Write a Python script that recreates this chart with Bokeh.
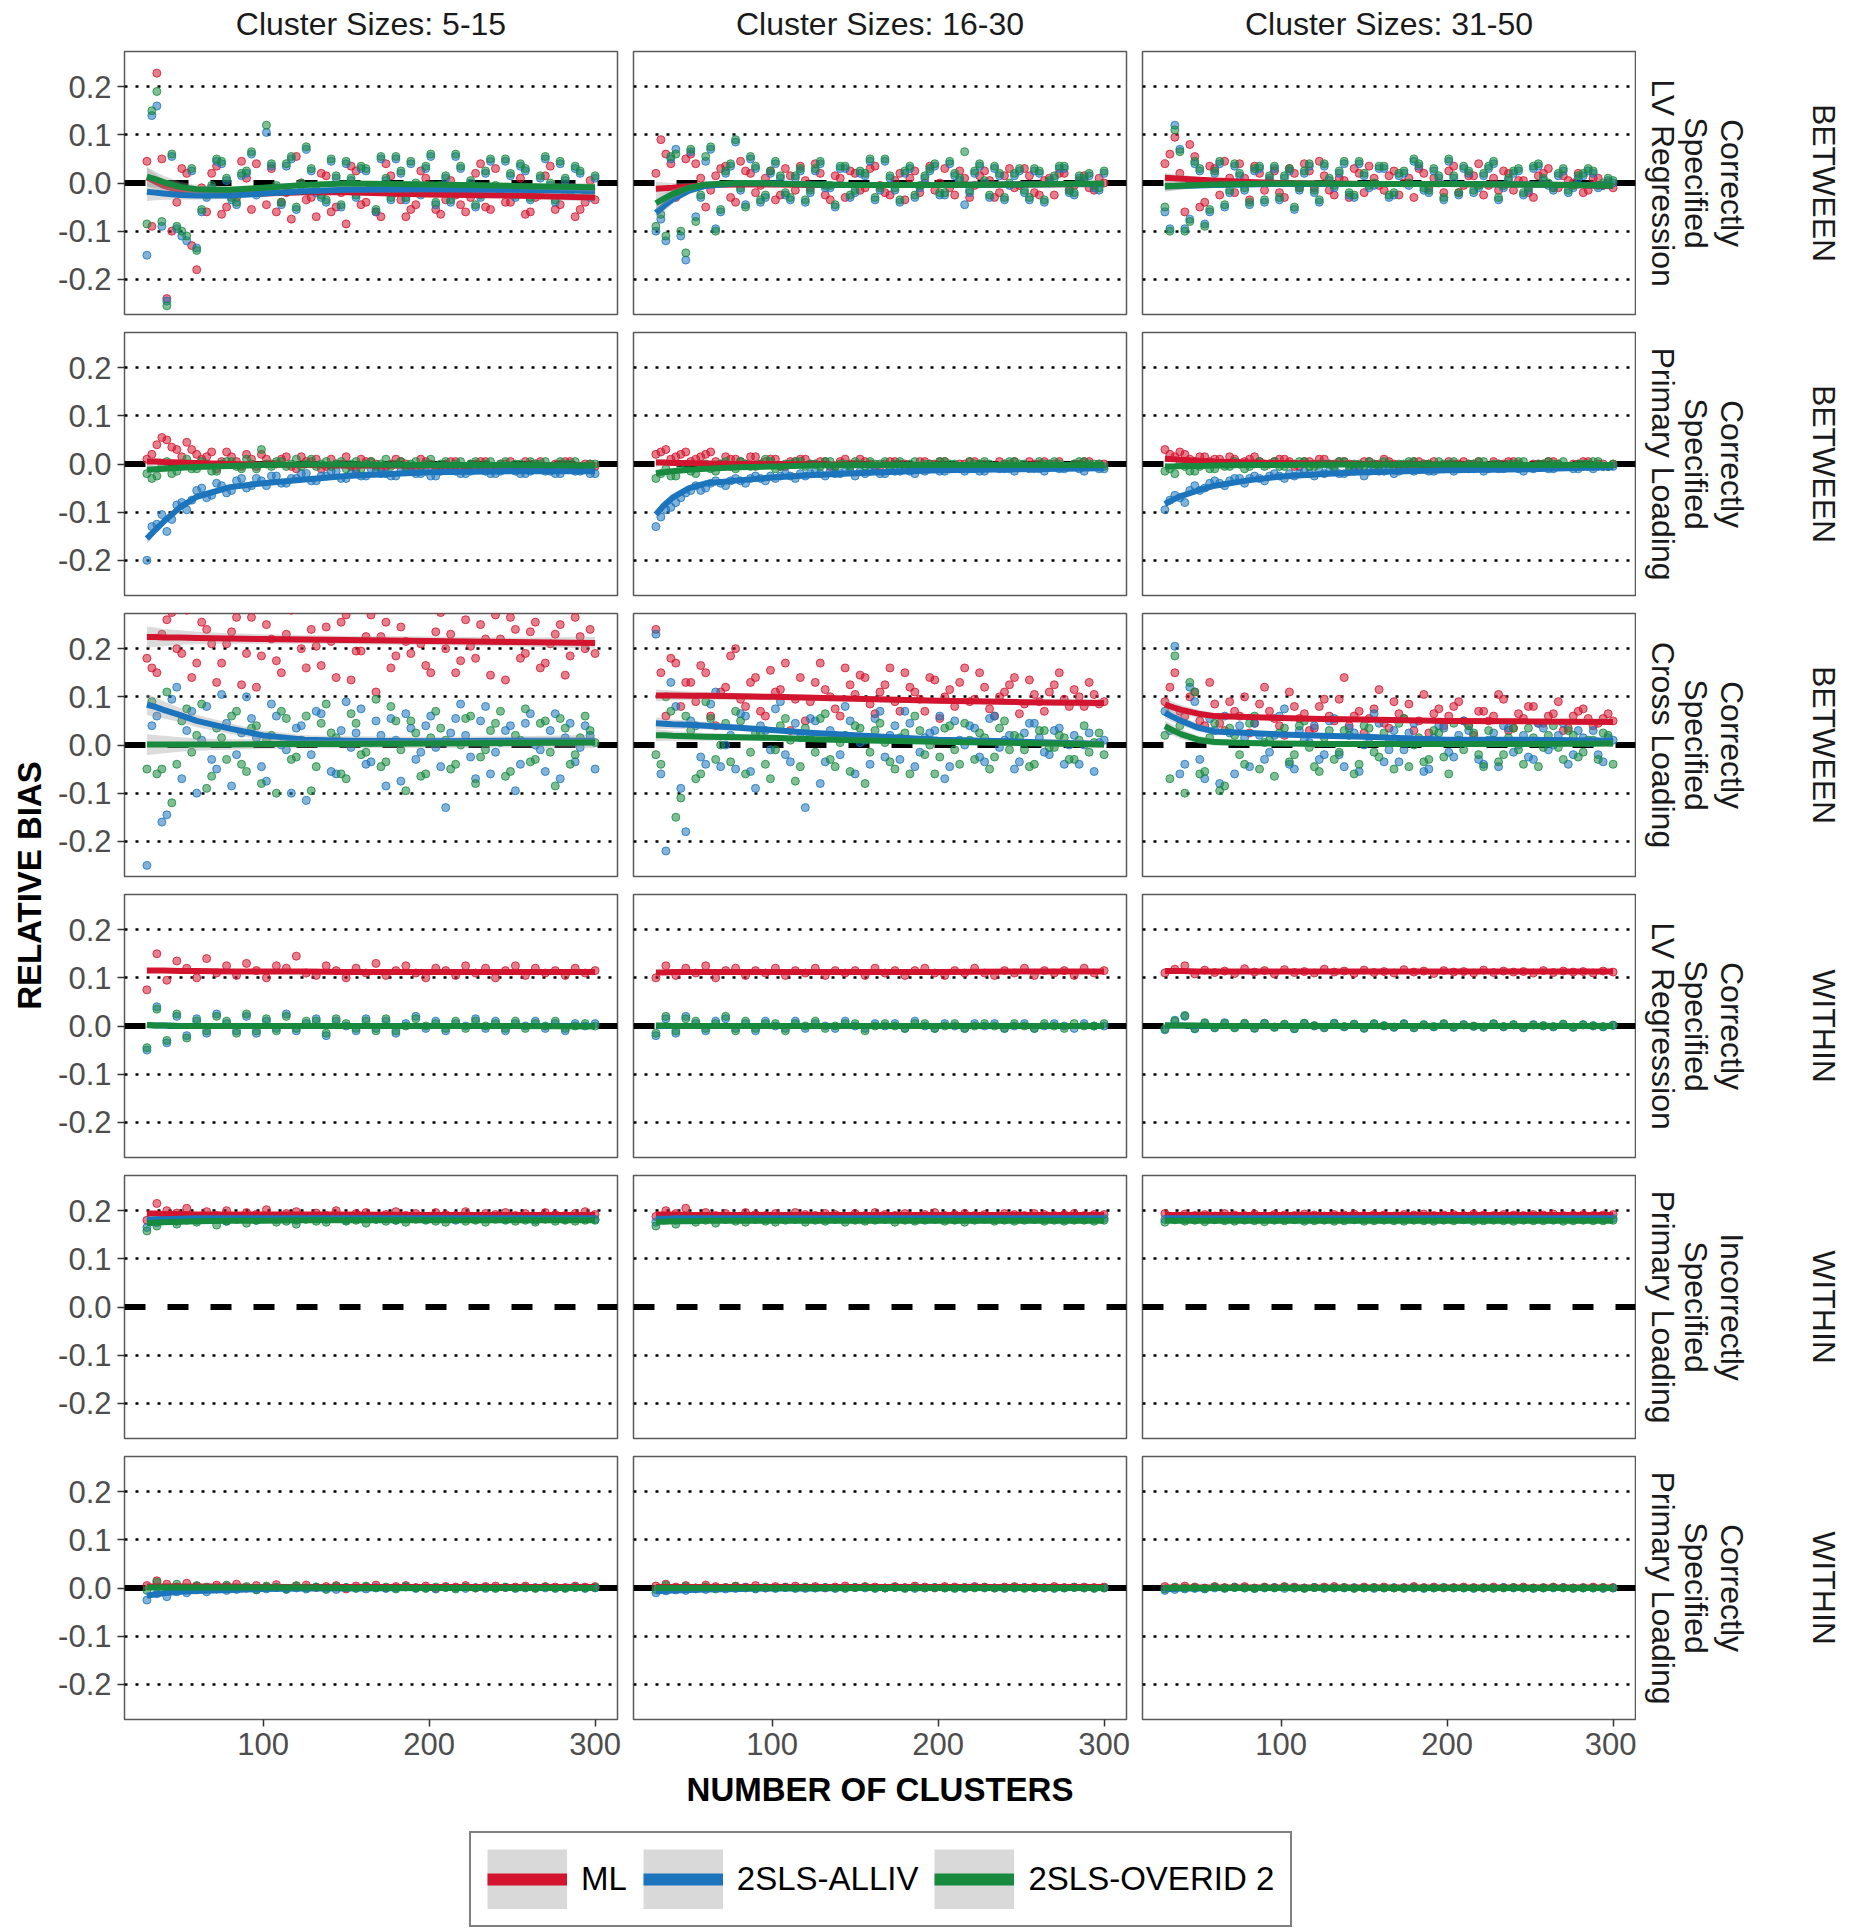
import math
from bokeh.plotting import figure
from bokeh.layouts import row, column
from bokeh.models import (Range1d, FixedTicker, PrintfTickFormatter, Span, Label,
                          Legend, LegendItem, ColumnDataSource)
from bokeh.embed import file_html
from bokeh.resources import INLINE

# ---------------- categories / labels ----------------
SERIES = ["ML", "2SLS-ALLIV", "2SLS-OVERID 2"]
COLORS = ["#D2142E", "#1C74BC", "#178A3E"]
COL_STRIPS = ["Cluster Sizes: 5-15", "Cluster Sizes: 16-30", "Cluster Sizes: 31-50"]
ROW_STRIPS = [
    (["Correctly", "Specified", "LV Regression"], "BETWEEN"),
    (["Correctly", "Specified", "Primary Loading"], "BETWEEN"),
    (["Correctly", "Specified", "Cross Loading"], "BETWEEN"),
    (["Correctly", "Specified", "LV Regression"], "WITHIN"),
    (["Incorrectly", "Specified", "Primary Loading"], "WITHIN"),
    (["Correctly", "Specified", "Primary Loading"], "WITHIN"),
]
Y_TICKS = [-0.2, -0.1, 0.0, 0.1, 0.2]
X_TICKS = [100, 200, 300]
X_TITLE = "NUMBER OF CLUSTERS"
Y_TITLE = "RELATIVE BIAS"

# x positions (number of clusters)
FIT_X = [30, 35, 40, 50, 60, 80, 100, 125, 150, 200, 250, 300]
PTS_X = [30, 36, 42, 48, 54, 60, 66, 72, 78, 84, 90, 96, 102, 108, 114, 120, 126, 132, 138, 144,
         150, 156, 162, 168, 174, 180, 186, 192, 198, 204, 210, 216, 222, 228, 234, 240, 246, 252,
         258, 264, 270, 276, 282, 288, 294, 300]
PTS_X2 = [33, 39, 45, 51, 57, 63, 69, 75, 81, 87, 93, 99, 105, 111, 117, 123, 129, 135, 141, 147,
          153, 159, 165, 171, 177, 183, 189, 195, 201, 207, 213, 219, 225, 231, 237, 243, 249, 255,
          261, 267, 273, 279, 285, 291, 297]

# ---------------- values (relative bias x 1000) ----------------
# Row 1: BETWEEN / Correctly Specified LV Regression
R1C1_ML_FIT = [12, 3, -6, -15, -20, -22, -22, -19, -19, -24, -26, -30]
R1C1_ALLIV_FIT = [-18, -20, -22, -25, -26, -26, -22, -17, -14, -13, -14, -16]
R1C1_OVERID_FIT = [13, 8, 2, -8, -13, -14, -10, -4, -1, -3, -6, -9]
R1C1_SE = [20, 16, 13, 10, 9, 7, 6, 6, 6, 6, 6, 9]
R1C1_ML_PTS = [45, 228, -240, -40, 20, -180, -60, 35, -50, -30, 10, 40, -45, -60, -20, 55, -35, -70, 15, -50,
               -85, 25, -40, -60, 40, -20, -70, -45, 10, -55, -35, -25, -60, 20, -50, 30, -40, -10, -65, -30,
               15, -55, -25, -70, -40, -35]
R1C1_ALLIV_PTS = [-150, 160, -245, -95, -120, -135, -30, 45, 5, -45, 20, -25, 105, -10, 35, -55, 70, -20, -40, 10,
                  40, -30, 25, -60, 5, 50, -35, -5, 30, -45, 10, 55, -20, -50, 20, -10, 45, -30, 25, -15,
                  50, -40, 5, 30, -20, 10]
R1C1_OVERID_PTS = [-85, 190, -255, -90, -110, -140, -25, 50, 10, -40, 25, -20, 120, -5, 40, -50, 75, -15, -35, 15,
                   45, -25, 30, -55, 10, 55, -30, 0, 35, -40, 15, 60, -15, -45, 25, -5, 50, -25, 30, -10,
                   55, -35, 10, 35, -15, 15]
R1C1_ML_PTS2 = [-90, 50, -100, 30, -130, -10, 20, -65, -25, 45, -55, -15, 30, -40, -75, 0, -30, 20, -60, -20,
                35, -45, -5, -70, 15, -35, -55, 25, -20, -65, 5, -45, -30, 40, -55, -15, -40, 10, -60, -25,
                35, -45, -15, -55, 5]
R1C1_ALLIV_PTS2 = [140, -90, 55, -110, 25, -60, -10, 40, -35, 15, 60, -20, 35, -45, 50, -5, 25, -30, 45, -50,
                   5, 30, -15, 50, -35, 20, 40, -25, 55, -10, -40, 30, 0, -30, 45, -20, 15, 35, -35, 10,
                   -5, 40, -25, 20, -30]
R1C1_OVERID_PTS2 = [150, -80, 60, -100, 30, -55, -5, 45, -30, 20, 65, -15, 40, -40, 55, 0, 30, -25, 50, -45,
                    10, 35, -10, 55, -30, 25, 45, -20, 60, -5, -35, 35, 5, -25, 50, -15, 20, 40, -30, 15,
                    0, 45, -20, 25, -25]

R1C2_ML_FIT = [-12, -11, -10, -7, -4, -3, -3, -4, -4, -4, -3, -2]
R1C2_ALLIV_FIT = [-62, -47, -34, -16, -6, 0, -1, -3, -4, -4, -3, -2]
R1C2_OVERID_FIT = [-42, -32, -23, -10, -3, 0, -1, -3, -4, -4, -3, -1]
R1C2_SE = [15, 12, 10, 7, 5, 4, 4, 4, 4, 4, 4, 6]
R1C2_ML_PTS = [20, 60, -30, 50, 40, -50, 15, 35, -40, 25, -20, 10, -35, 30, -15, 5, 40, -25, 15, -30,
               20, -10, 35, -20, 5, -35, 25, 0, -15, 30, -25, 10, -5, 25, -30, 15, -10, 30, -20, 5,
               -25, 20, -5, 15, -15, 0]
R1C2_ALLIV_PTS = [-100, -120, 70, -160, -70, 45, -95, 20, 85, -45, 30, -30, 40, -25, 10, -40, 25, -10, -50, 30,
                  -20, 15, -35, 45, -15, 20, -30, 10, 35, -25, 15, -45, 20, 0, 30, -35, 15, -20, 25, -40,
                  10, 30, -25, 5, -10, 20]
R1C2_OVERID_PTS = [-90, -110, 60, -145, -80, 55, -100, 25, 90, -50, 35, -25, 45, -20, 15, -35, 30, -5, -45, 35,
                   -15, 20, -30, 50, -10, 25, -25, 15, 40, -20, 20, 65, 25, 5, 35, -30, 20, -15, 30, -35,
                   15, 35, -20, 10, -5, 25]
R1C2_ML_PTS2 = [90, 40, -20, 60, 10, -15, 30, -30, 45, 20, -5, 25, -25, 15, 35, -10, 20, -35, 10, 25,
                -15, 30, -5, -25, 20, 10, -20, 35, 0, -10, 25, -30, 15, 5, -20, 30, -5, 15, -25, 10,
                20, -15, 5, -10, 10]
R1C2_ALLIV_PTS2 = [-75, 50, -110, 65, -30, 70, -60, 35, -15, 50, -40, 20, 10, -35, 25, -20, 40, -10, 30, -30,
                   20, 45, -15, 10, -40, 30, -10, 25, -25, 40, 5, -20, 35, -30, 15, -5, 25, -35, 20, 0,
                   30, -20, 10, 15, -15]
R1C2_OVERID_PTS2 = [-65, 55, -100, 70, -25, 75, -55, 40, -10, 55, -35, 25, 15, -30, 30, -15, 45, -5, 35, -25,
                    25, 50, -10, 15, -35, 35, -5, 30, -20, 45, 10, -15, 40, -25, 20, 0, 30, -30, 25, 5,
                    35, -15, 15, 20, -10]

R1C3_ML_FIT = [11, 10, 9, 7, 5, 2, 0, -1, -2, -2, -3, -6]
R1C3_ALLIV_FIT = [-8, -7, -6, -5, -4, -3, -2, -2, -2, -2, -3, -5]
R1C3_OVERID_FIT = [-6, -6, -5, -4, -3, -2, -1, -1, -2, -2, -3, -5]
R1C3_SE = [10, 9, 8, 6, 5, 4, 4, 4, 4, 4, 4, 5]
R1C3_ML_PTS = [40, 95, -60, 55, -40, 30, 45, -20, 10, 35, -15, 25, -30, 20, 40, -10, 15, -25, 5, 30,
               -20, 10, -15, 25, 0, -30, 20, 10, -20, 35, -5, 15, -25, 10, 25, -15, 5, -30, 20, -10,
               15, 0, -20, 10, -5, -10]
R1C3_ALLIV_PTS = [-60, 120, -95, 40, -85, 20, -50, 35, -15, 25, -40, 30, 10, -55, 20, -20, 35, -10, 40, -30,
                  15, -5, 30, -25, 20, 45, -15, 25, -35, 10, 30, -20, 15, 40, -10, 20, -25, 30, 5, -15,
                  25, -10, 15, 20, -5, 0]
R1C3_OVERID_PTS = [-50, 110, -100, 45, -90, 25, -45, 40, -10, 30, -35, 35, 15, -50, 25, -15, 40, -5, 45, -25,
                   20, 0, 35, -20, 25, 50, -10, 30, -30, 15, 35, -15, 20, 45, -5, 25, -20, 35, 10, -10,
                   30, -5, 20, 25, 0, 5]
R1C3_ML_PTS2 = [60, 20, 80, -50, 35, -25, 10, 40, -35, 20, 5, -20, 30, -10, 25, 45, -15, 10, -30, 20,
                35, -5, 15, -25, 10, 30, -10, 0, 25, -20, 15, 40, -5, -15, 20, 5, -20, 15, 30, -10,
                5, 20, -15, 10, 0]
R1C3_ALLIV_PTS2 = [-95, 70, -75, 25, -60, 40, -20, 15, -45, 30, 10, -35, 25, -15, 35, -40, 5, 20, -25, 40,
                   -10, 30, -30, 15, -5, 35, -20, 10, 45, -25, 20, -10, 30, -35, 5, 25, -15, 35, -5, 15,
                   -20, 10, 25, -10, 5]
R1C3_OVERID_PTS2 = [-100, 65, -80, 30, -55, 45, -15, 20, -40, 35, 15, -30, 30, -10, 40, -35, 10, 25, -20, 45,
                    -5, 35, -25, 20, 0, 40, -15, 15, 50, -20, 25, -5, 35, -30, 10, 30, -10, 40, 0, 20,
                    -15, 15, 30, -5, 10]

# Row 2: BETWEEN / Correctly Specified Primary Loading
R2C1_ML_FIT = [5, 5, 4, 3, 2, 0, -1, -2, -3, -3, -3, -3]
R2C1_ALLIV_FIT = [-155, -137, -120, -90, -68, -48, -40, -32, -25, -17, -15, -15]
R2C1_OVERID_FIT = [-12, -11, -10, -8, -6, -4, -2, -1, -1, -2, -2, -3]
R2C1_SE = [10, 8, 7, 5, 4, 3, 3, 3, 3, 3, 3, 4]
R2C1_ML_PTS = [10, 40, 50, 30, 45, 20, 15, -10, 25, 5, 20, -5, 10, 0, 15, -10, 5, 10, -5, 0,
               15, -10, 5, 0, -5, 10, 0, -10, 5, -5, 0, 5, -10, 0, 5, -5, 0, -10, 5, 0,
               -5, 0, 5, -5, 0, -5]
R2C1_ALLIV_PTS = [-200, -125, -140, -85, -95, -55, -70, -40, -60, -35, -50, -30, -45, -25, -40, -30, -20, -35, -25, -15,
                  -30, -20, -25, -15, -20, -25, -10, -20, -15, -25, -10, -15, -20, -10, -15, -20, -10, -15, -20, -10,
                  -15, -20, -10, -15, -10, -20]
R2C1_OVERID_PTS = [-20, -25, 5, -15, 10, -10, 0, -15, 5, -5, 10, -10, 0, 5, -5, 10, 0, -5, 5, 0,
                   -10, 5, 0, -5, 10, 0, -5, 5, 0, -10, 5, 0, -5, 5, 0, -5, 5, 0, -5, 0,
                   5, -5, 0, 5, -5, 0]
R2C1_ML_PTS2 = [20, 55, 35, 15, 30, 10, 25, 5, 15, -5, 10, 20, 0, 10, -5, 15, 5, -10, 10, 0,
                -5, 10, 5, -10, 0, 5, -5, 10, 0, -5, 5, -10, 0, 5, -5, 0, 5, -10, 0, 5,
                -5, 0, 5, -5, 0]
R2C1_ALLIV_PTS2 = [-130, -105, -115, -80, -75, -50, -65, -45, -55, -30, -45, -35, -25, -40, -30, -20, -35, -25, -15, -30,
                   -20, -25, -10, -20, -25, -15, -10, -20, -25, -15, -10, -20, -15, -10, -20, -15, -10, -20, -15, -5,
                   -15, -20, -10, -15, -20]
R2C1_OVERID_PTS2 = [-30, -5, -20, 0, -10, 5, -15, 0, 5, -10, 0, 30, -5, 5, 0, -5, 10, 0, -5, 5,
                    0, -10, 5, 0, -5, 5, 0, -5, 10, 0, -5, 5, 0, -5, 5, 0, -5, 0, 5, 0,
                    -5, 5, 0, -5, 0]

R2C2_ML_FIT = [3, 3, 2, 2, 1, 0, 0, -1, -1, -2, -2, -2]
R2C2_ALLIV_FIT = [-105, -85, -70, -50, -40, -34, -28, -23, -19, -13, -11, -9]
R2C2_OVERID_FIT = [-19, -17, -15, -12, -10, -7, -5, -3, -2, -2, -2, -2]
R2C2_SE = [8, 7, 6, 4, 3, 3, 2, 2, 2, 2, 2, 3]
R2C2_ML_PTS = [20, 30, 15, 25, 10, 20, 5, 15, 10, 0, 15, 5, 10, -5, 5, 10, 0, 5, -5, 10,
               0, 5, -5, 0, 5, 0, -5, 5, 0, 5, -5, 0, 5, 0, -5, 0, 5, -5, 0, 5,
               0, -5, 0, 5, -5, 0]
R2C2_ALLIV_PTS = [-130, -95, -80, -60, -45, -50, -35, -45, -30, -40, -25, -35, -30, -20, -30, -25, -15, -25, -20, -15,
                  -25, -20, -10, -20, -15, -10, -20, -15, -10, -15, -5, -15, -10, -15, -5, -10, -15, -5, -10, -15,
                  -5, -10, -5, -15, -5, -10]
R2C2_OVERID_PTS = [-30, -10, -25, -5, -20, 0, -15, 5, -10, 0, -5, 10, -10, 0, 5, -5, 0, 5, -5, 0,
                   5, -5, 0, 5, 0, -5, 5, 0, -5, 5, 0, -5, 0, 5, -5, 0, 5, 0, -5, 0,
                   5, -5, 0, 5, 0, -5]
R2C2_ML_PTS2 = [25, 10, 20, 5, 15, 25, 0, 10, 5, 15, 0, 10, -5, 5, 10, 0, 5, -5, 5, 0,
                10, 0, -5, 5, 0, -5, 5, 0, 5, -5, 0, 5, 0, -5, 5, 0, -5, 5, 0, 0,
                5, -5, 0, 5, 0]
R2C2_ALLIV_PTS2 = [-110, -90, -70, -55, -55, -40, -40, -35, -35, -30, -30, -25, -25, -25, -20, -20, -20, -15, -20, -15,
                   -15, -15, -20, -10, -15, -15, -10, -10, -15, -10, -10, -10, -15, -5, -10, -10, -5, -10, -10, -5,
                   -10, -5, -10, -5, -10]
R2C2_OVERID_PTS2 = [-20, -25, -10, -15, -5, -10, 0, -5, 5, -5, 0, 5, -5, 0, 5, 0, -5, 5, 0, -5,
                    0, 5, 0, -5, 5, 0, -5, 0, 5, 0, -5, 5, 0, 0, -5, 5, 0, -5, 5, 0,
                    0, -5, 5, 0, 0]

R2C3_ML_FIT = [11, 10, 9, 7, 5, 3, 2, 1, 0, -1, -2, -2]
R2C3_ALLIV_FIT = [-83, -74, -66, -55, -45, -34, -26, -21, -17, -13, -11, -6]
R2C3_OVERID_FIT = [-5, -5, -4, -4, -3, -2, -2, -1, -1, -1, -2, -2]
R2C3_SE = [7, 6, 5, 4, 3, 3, 2, 2, 2, 2, 2, 3]
R2C3_ML_PTS = [30, 15, 20, 5, 15, 10, 0, 10, 5, 15, 0, 5, 10, -5, 5, 0, 10, 0, 5, -5,
               5, 0, 10, 0, -5, 5, 0, 5, -5, 0, 5, 0, -5, 5, 0, 5, -5, 0, 0, 5,
               -5, 0, 5, -5, 0, 0]
R2C3_ALLIV_PTS = [-95, -65, -80, -45, -50, -35, -45, -30, -40, -25, -35, -20, -30, -25, -15, -25, -20, -10, -20, -15,
                  -25, -10, -15, -20, -10, -15, -5, -15, -10, -15, -5, -10, -15, -5, -10, -5, -15, -10, -5, -10,
                  -5, -10, -5, -10, -5, -5]
R2C3_OVERID_PTS = [-15, -20, -5, -15, 0, -10, -5, 5, -10, 0, -5, 5, -5, 0, 5, -5, 0, -5, 5, 0,
                   -5, 0, 5, -5, 0, 5, 0, -5, 0, 5, -5, 0, 5, 0, -5, 0, 5, -5, 0, 0,
                   5, -5, 0, 5, -5, 0]
R2C3_ML_PTS2 = [20, 25, 10, 15, 5, 10, 15, 0, 10, 5, 0, 10, 5, -5, 5, 10, 0, 5, 0, -5,
                5, 0, 5, -5, 0, 5, 0, -5, 5, 0, 0, 5, -5, 0, 5, 0, -5, 0, 5, 0,
                -5, 0, 5, 0, -5]
R2C3_ALLIV_PTS2 = [-75, -70, -55, -55, -40, -40, -35, -30, -30, -30, -25, -25, -20, -20, -20, -15, -15, -20, -15, -10,
                   -15, -15, -10, -15, -10, -10, -15, -10, -5, -10, -10, -5, -10, -10, -5, -10, -5, -5, -10, -5,
                   -5, -10, -5, -5, -5]
R2C3_OVERID_PTS2 = [-10, 0, -15, -5, -10, 0, -5, 0, -5, 5, 0, -5, 0, 5, -5, 0, 0, 5, -5, 0,
                    5, -5, 0, 0, 5, -5, 0, 5, 0, -5, 0, 5, -5, 0, 0, 5, -5, 0, 5, 0,
                    -5, 0, 0, 5, -5]

# Row 3: BETWEEN / Correctly Specified Cross Loading
R3C1_ML_FIT = [224, 224, 223, 223, 222, 221, 220, 219, 218, 216, 214, 212]
R3C1_ALLIV_FIT = [84, 79, 73, 62, 50, 34, 20, 11, 9, 8, 9, 9]
R3C1_OVERID_FIT = [1, 1, 1, 1, 1, 1, 2, 2, 2, 3, 4, 5]
R3C1_SE = [22, 20, 18, 15, 13, 11, 10, 9, 9, 9, 9, 12]
R3C1_ML_PTS = [180, 150, 260, 200, 280, 170, 240, 130, 210, 265, 190, 120, 250, 175, 230, 285, 160, 205, 245, 140,
               270, 195, 225, 110, 255, 185, 215, 290, 165, 235, 200, 150, 260, 180, 220, 270, 135, 240, 190, 255,
               170, 230, 145, 265, 200, 190]
R3C1_ALLIV_PTS = [-250, 60, -145, 120, 30, -100, 80, -50, 45, -20, 100, 15, -75, 60, -10, 35, -115, 70, 5, -60,
                  90, 25, -40, 50, -85, 10, 65, -30, 40, -5, -130, 55, 20, -70, 80, -15, 30, -95, 45, 0,
                  -55, 65, 15, -35, 40, -50]
R3C1_OVERID_PTS = [-50, -60, 110, -40, 75, 20, -90, 35, -30, 70, -55, 40, 10, -100, 55, -25, 60, -45, 85, 15,
                   -70, 45, -15, 95, -35, 50, -95, 25, -60, 70, 10, -40, 55, -80, -10, 45, -65, 20, 75, -30,
                   50, -85, 35, -20, 60, 5]
R3C1_ML_PTS2 = [160, 230, 275, 190, 140, 255, 210, 170, 235, 125, 265, 185, 220, 150, 280, 200, 240, 165, 215, 255,
                135, 195, 270, 225, 160, 245, 190, 210, 150, 275, 230, 175, 205, 250, 145, 220, 265, 180, 235, 160,
                210, 250, 185, 225, 240]
R3C1_ALLIV_PTS2 = [40, -160, 95, -70, 70, 10, -30, 105, -85, 25, 55, -45, 85, 0, -100, 40, -20, 65, -55, 30,
                   -5, 75, -35, 20, 55, -75, 35, -15, 60, -45, 25, 85, -25, 50, -60, 5, 40, -40, 65, -10,
                   30, -70, 45, -5, 20]
R3C1_OVERID_PTS2 = [90, -50, -120, 50, -15, 85, -65, 15, 60, -40, 35, -80, 20, 70, -30, 10, -95, 45, 25, -60,
                    65, -20, 5, -45, 80, -10, 50, -65, 15, 35, -50, 0, 60, -25, 30, 70, -55, 10, -35, 45,
                    -15, 55, -40, 15, 30]

R3C2_ML_FIT = [103, 103, 103, 102, 102, 101, 100, 98, 96, 92, 89, 87]
R3C2_ALLIV_FIT = [45, 44, 43, 42, 40, 36, 31, 25, 20, 11, 7, 2]
R3C2_OVERID_FIT = [20, 20, 19, 18, 17, 16, 15, 12, 10, 7, 4, 1]
R3C2_SE = [12, 11, 10, 9, 8, 7, 6, 6, 6, 6, 6, 8]
R3C2_ML_PTS = [240, 60, 170, 130, 90, 150, 40, 120, 200, 80, 140, 60, 110, 170, 95, 50, 130, 115, 75, 160,
               105, 140, 65, 125, 90, 150, 110, 70, 135, 100, 80, 160, 95, 120, 60, 110, 140, 85, 105, 70,
               125, 95, 115, 80, 105, 90]
R3C2_ALLIV_PTS = [230, -220, 80, -180, 40, -40, 110, 0, -50, 60, -90, 30, 75, -20, 45, -130, 50, -35, 20, 80,
                  -60, 10, 55, -25, 40, 70, -45, 15, 30, -70, 50, 0, 35, -35, 60, 10, -50, 25, 45, -15,
                  30, -40, 20, 0, -55, 10]
R3C2_OVERID_PTS = [-20, 100, -150, 60, -70, 90, -30, 45, 70, -60, 25, -40, -10, 55, -75, 35, -15, 65, -45, 20,
                   40, -80, 30, 5, -50, 25, 60, -20, -60, 35, -10, 45, -30, 15, -25, 50, 20, -10, -40, 30,
                   -5, 15, -30, 40, 5, -20]
R3C2_ML_PTS2 = [150, 180, 80, 130, 165, 60, 110, 185, 95, 130, 70, 155, 115, 30, 140, 90, 170, 100, 60, 125,
                145, 85, 110, 160, 70, 120, 95, 140, 55, 115, 130, 90, 150, 75, 100, 125, 65, 135, 90, 110,
                150, 80, 100, 130, 85]
R3C2_ALLIV_PTS2 = [-60, 130, -90, 50, -25, 85, -45, 20, 65, -55, 40, -10, 90, -35, 15, 55, -80, 30, -20, 50,
                   5, -40, 70, 20, -30, 45, -15, 25, 60, -45, 10, 40, -25, 55, -5, 20, -35, 45, 15, -20,
                   35, 0, -40, 25, 5]
R3C2_OVERID_PTS2 = [-40, 70, -110, 30, -60, 55, 0, -35, 50, -15, 25, -70, 40, 10, -45, 20, 55, -30, 5, -55,
                    35, -15, 45, -35, 15, -60, 30, 0, -25, 40, -40, 10, 25, -50, 35, -10, 15, -45, 30, -5,
                    20, -30, 10, -15, 25]

R3C3_ML_FIT = [84, 78, 73, 65, 60, 58, 56, 54, 53, 50, 49, 48]
R3C3_ALLIV_FIT = [67, 58, 50, 36, 28, 25, 22, 19, 17, 11, 11, 9]
R3C3_OVERID_FIT = [39, 30, 22, 11, 6, 4, 3, 2, 2, 2, 2, 3]
R3C3_SE = [12, 11, 10, 8, 7, 6, 5, 5, 5, 5, 5, 7]
R3C3_ML_PTS = [90, 150, 60, 110, 40, 85, 30, 70, 100, 45, 120, 55, 20, 80, 65, 35, 95, 50, 140, 60,
               25, 75, 45, 90, 55, 30, 105, 65, 40, 80, 50, 20, 70, 60, 95, 35, 55, 80, 45, 65,
               30, 60, 75, 40, 55, 50]
R3C3_ALLIV_PTS = [70, 205, -40, 90, -70, 30, 60, -60, 15, 45, -30, 20, 75, -50, 10, 40, -20, 55, -45, 25,
                  0, 65, -35, 30, -10, 45, -55, 15, 35, -25, 50, 5, -40, 25, 40, -15, 20, -30, 35, 0,
                  45, -20, 15, 30, -35, 10]
R3C3_OVERID_PTS = [20, 185, -100, 110, -55, 45, -85, 20, -40, 60, 5, -65, 35, -20, 50, -45, 15, -30, 30, -60,
                   40, -15, 25, -50, 55, 0, -35, 30, -25, 45, -10, 25, -45, 10, -20, 35, -40, 15, -5, 40,
                   -30, 20, -15, 10, 25, -40]
R3C3_ML_PTS2 = [120, 70, 100, 50, 130, 45, 90, 60, 25, 85, 70, 40, 110, 55, 30, 80, 60, 95, 40, 70,
                55, 115, 35, 65, 85, 50, 25, 75, 60, 90, 40, 70, 50, 105, 30, 65, 80, 45, 60, 90,
                35, 70, 55, 45, 65]
R3C3_ALLIV_PTS2 = [30, -60, 120, -30, 55, -80, 25, 40, -45, 20, -15, 60, -40, 30, 5, -30, 50, -20, 35, -55,
                   15, 45, -10, -35, 25, 10, -50, 40, -15, 20, 30, -30, 10, -45, 35, 0, -25, 45, -10, 20,
                   -40, 30, 5, -20, 15]
R3C3_OVERID_PTS2 = [-70, 40, 130, -60, 15, -95, 35, -20, 45, -50, 10, 25, -35, 40, -5, -55, 30, -15, 20, -40,
                    35, -25, 5, 45, -45, 15, -30, 25, -60, 10, 40, -20, 30, -35, 15, -10, 35, -45, 20, -5,
                    30, -25, 10, -30, 20]

# Row 4: WITHIN / Correctly Specified LV Regression
R4C1_ML_FIT = [115, 115, 115, 114, 114, 113, 113, 113, 112, 112, 112, 112]
R4C1_ALLIV_FIT = [2, 1, 1, 0, 0, 0, 0, 0, 0, 0, 0, 0]
R4C1_OVERID_FIT = [2, 1, 1, 0, 0, 0, 0, 0, 0, 0, 0, -1]
R4C1_SE = [6, 5, 5, 4, 3, 3, 2, 2, 2, 2, 2, 3]
R4C1_ML_PTS = [75, 150, 95, 135, 120, 100, 140, 110, 125, 105, 130, 115, 100, 125, 120, 145, 110, 105, 125, 115,
               100, 120, 110, 130, 105, 115, 125, 110, 100, 120, 115, 105, 125, 110, 120, 100, 115, 125, 105, 120,
               110, 115, 105, 120, 110, 115]
R4C1_ALLIV_PTS = [-50, 40, -35, 20, -20, 15, -15, 25, 5, -10, 20, -15, 10, -5, 25, -10, 5, 15, -20, 10,
                  0, -10, 15, -5, 10, -15, 5, 20, -5, 10, -10, 5, 0, 15, -5, 10, -10, 5, 0, 10,
                  -5, 5, -10, 5, 0, 5]
R4C1_OVERID_PTS = [-45, 35, -30, 25, -25, 10, -10, 20, 10, -15, 25, -10, 15, -10, 20, -5, 10, 10, -15, 15,
                   5, -5, 10, -10, 15, -10, 0, 15, 0, 5, -5, 10, -5, 10, 0, 5, -5, 10, -5, 5,
                   0, 10, -5, 0, 5, 0]

R4C2_ML_FIT = [111, 111, 112, 112, 112, 112, 112, 112, 112, 112, 113, 113]
R4C2_ALLIV_FIT = [0, 0, 0, 0, 0, 0, 0, 0, 0, 0, 0, 0]
R4C2_OVERID_FIT = [1, 1, 0, 0, 0, 0, 0, 0, 0, 0, 0, 0]
R4C2_SE = [4, 4, 3, 3, 2, 2, 2, 2, 2, 2, 2, 2]
R4C2_ML_PTS = [100, 125, 105, 120, 110, 125, 100, 115, 120, 105, 115, 110, 120, 105, 115, 110, 120, 105, 115, 110,
               115, 105, 120, 110, 115, 105, 115, 120, 110, 105, 115, 110, 120, 110, 105, 115, 110, 120, 105, 115,
               110, 115, 105, 120, 110, 115]
R4C2_ALLIV_PTS = [-20, 15, -15, 20, 5, -10, 10, 15, -5, 5, -10, 10, 0, -5, 10, -5, 5, 0, -5, 10,
                  0, -5, 5, 0, 5, -5, 10, 0, -5, 5, 0, -5, 5, 0, 5, -5, 0, 5, -5, 0,
                  5, 0, -5, 5, 0, 0]
R4C2_OVERID_PTS = [-15, 20, -10, 15, 10, -5, 5, 20, -10, 10, -5, 5, 5, -10, 5, 0, 10, -5, 0, 5,
                   5, -10, 0, 5, 0, -5, 5, 5, -5, 0, 5, -5, 0, 5, 0, -5, 5, 0, -5, 5,
                   0, -5, 5, 0, 0, 5]

R4C3_ML_FIT = [114, 114, 114, 113, 113, 113, 113, 113, 113, 113, 113, 113]
R4C3_ALLIV_FIT = [1, 1, 1, 0, 0, 0, 0, 0, 0, 0, 0, 0]
R4C3_OVERID_FIT = [1, 1, 1, 1, 0, 0, 0, 0, 0, 0, 0, 0]
R4C3_SE = [3, 3, 3, 2, 2, 2, 2, 2, 2, 2, 2, 2]
R4C3_ML_PTS = [110, 118, 125, 108, 116, 111, 114, 109, 119, 112, 115, 108, 117, 111, 113, 110, 118, 112, 114, 109,
               116, 111, 113, 110, 117, 112, 114, 109, 115, 112, 113, 110, 116, 111, 114, 112, 113, 110, 115, 111,
               114, 112, 113, 110, 114, 112]
R4C3_ALLIV_PTS = [-8, 12, 20, -6, 5, -4, 7, -3, 4, -5, 6, -2, 3, -6, 5, 0, -4, 6, -2, 3,
                  -5, 4, 0, -3, 5, -4, 2, -2, 4, -3, 3, -1, -3, 4, -2, 2, -4, 3, 0, -2,
                  3, -3, 2, 0, -2, 1]
R4C3_OVERID_PTS = [-6, 10, 22, -5, 7, -3, 5, -4, 6, -4, 5, -3, 4, -5, 6, 1, -3, 5, -1, 4,
                   -4, 5, 1, -2, 4, -3, 3, -1, 5, -2, 2, 0, -2, 5, -1, 3, -3, 2, 1, -1,
                   4, -2, 3, 1, -1, 2]

# Row 5: WITHIN / Incorrectly Specified Primary Loading
R5C1_ML_FIT = [194, 194, 193, 193, 192, 192, 192, 192, 192, 191, 191, 191]
R5C1_ALLIV_FIT = [181, 182, 182, 183, 184, 184, 184, 184, 184, 184, 184, 184]
R5C1_OVERID_FIT = [174, 175, 176, 177, 178, 179, 179, 180, 180, 180, 180, 180]
R5C1_SE = [4, 4, 3, 3, 2, 2, 2, 2, 2, 2, 2, 2]
R5C1_ML_PTS = [180, 215, 200, 195, 205, 188, 198, 190, 200, 186, 196, 192, 202, 188, 194, 198, 186, 195, 190, 200,
               188, 194, 196, 186, 192, 198, 190, 194, 188, 196, 192, 190, 198, 188, 194, 192, 196, 190, 194, 188,
               196, 192, 190, 194, 198, 192]
R5C1_ALLIV_PTS = [165, 175, 190, 178, 186, 180, 188, 182, 178, 186, 184, 180, 188, 182, 186, 180, 184, 188, 182, 184,
                  180, 186, 184, 182, 188, 180, 184, 186, 182, 184, 186, 180, 184, 182, 186, 184, 182, 186, 184, 180,
                  184, 186, 182, 184, 184, 182]
R5C1_OVERID_PTS = [158, 168, 185, 172, 180, 176, 184, 170, 178, 182, 174, 180, 186, 176, 178, 172, 182, 178, 176, 184,
                   178, 180, 174, 182, 178, 180, 176, 182, 180, 178, 176, 182, 178, 180, 176, 182, 180, 178, 180, 176,
                   182, 178, 180, 178, 180, 180]

R5C2_ML_FIT = [192, 192, 192, 191, 191, 191, 191, 191, 191, 191, 191, 191]
R5C2_ALLIV_FIT = [183, 183, 184, 184, 184, 184, 184, 184, 184, 184, 184, 184]
R5C2_OVERID_FIT = [177, 177, 178, 178, 179, 179, 179, 179, 179, 179, 179, 179]
R5C2_SE = [3, 3, 2, 2, 2, 2, 2, 2, 2, 2, 2, 2]
R5C2_ML_PTS = [188, 200, 194, 205, 186, 196, 190, 194, 188, 196, 192, 190, 194, 188, 196, 192, 190, 194, 192, 188,
               194, 190, 196, 192, 190, 194, 188, 192, 196, 190, 192, 194, 190, 192, 188, 194, 192, 190, 194, 192,
               190, 192, 194, 190, 192, 192]
R5C2_ALLIV_PTS = [176, 186, 180, 188, 182, 184, 186, 182, 184, 186, 182, 184, 186, 184, 182, 184, 186, 184, 182, 184,
                  186, 184, 184, 182, 186, 184, 182, 184, 186, 184, 182, 184, 184, 186, 182, 184, 184, 186, 182, 184,
                  184, 182, 186, 184, 184, 184]
R5C2_OVERID_PTS = [168, 182, 172, 186, 176, 180, 174, 182, 178, 176, 182, 178, 176, 180, 182, 176, 180, 178, 182, 176,
                   180, 178, 180, 182, 176, 180, 178, 180, 182, 178, 180, 176, 180, 182, 178, 180, 178, 180, 182, 178,
                   180, 178, 180, 180, 178, 180]

R5C3_ML_FIT = [191, 191, 191, 191, 191, 191, 191, 191, 191, 191, 191, 191]
R5C3_ALLIV_FIT = [184, 184, 184, 184, 184, 184, 184, 184, 184, 184, 184, 184]
R5C3_OVERID_FIT = [179, 179, 179, 179, 179, 179, 179, 179, 179, 179, 179, 179]
R5C3_SE = [2, 2, 2, 2, 2, 2, 2, 2, 2, 2, 2, 2]
R5C3_ML_PTS = [194, 188, 193, 190, 192, 189, 194, 191, 190, 193, 189, 192, 191, 190, 193, 191, 189, 192, 191, 193,
               190, 192, 191, 189, 192, 191, 193, 190, 191, 192, 190, 193, 191, 190, 192, 191, 190, 192, 191, 193,
               190, 191, 192, 190, 191, 192]
R5C3_ALLIV_PTS = [182, 186, 183, 185, 184, 182, 185, 184, 183, 185, 184, 183, 185, 184, 182, 185, 184, 183, 184, 185,
                  183, 184, 185, 183, 184, 184, 185, 183, 184, 185, 184, 183, 184, 185, 184, 183, 184, 184, 185, 183,
                  184, 184, 183, 185, 184, 184]
R5C3_OVERID_PTS = [176, 181, 178, 180, 177, 181, 179, 178, 180, 179, 177, 180, 179, 181, 178, 179, 180, 178, 179, 181,
                   178, 179, 180, 179, 178, 180, 179, 178, 180, 179, 181, 178, 179, 180, 179, 178, 180, 179, 179, 180,
                   178, 179, 180, 179, 179, 180]

# Row 6: WITHIN / Correctly Specified Primary Loading
R6C1_ML_FIT = [3, 3, 3, 3, 3, 3, 2, 2, 2, 2, 2, 2]
R6C1_ALLIV_FIT = [-16, -13, -11, -8, -6, -4, -2, -1, -1, 0, 0, 0]
R6C1_OVERID_FIT = [1, 1, 1, 1, 1, 1, 1, 1, 0, 0, 0, 0]
R6C1_SE = [4, 4, 3, 3, 2, 2, 2, 2, 2, 2, 2, 2]
R6C1_ML_PTS = [5, 15, 8, 2, 10, 4, -2, 6, 3, 8, 0, 5, 2, 7, -1, 4, 6, 1, 3, 5,
               -2, 4, 2, 6, 0, 3, 5, 1, 4, -1, 3, 2, 5, 0, 3, 4, 1, 2, 4, 0,
               3, 2, 1, 4, 2, 3]
R6C1_ALLIV_PTS = [-25, -12, -18, -8, -10, -4, -8, -2, -5, -3, 0, -4, -2, 1, -3, 0, -2, 2, -1, -3,
                  1, 0, -2, 1, -1, 0, 2, -1, 0, -2, 1, 0, -1, 1, -1, 0, 1, -1, 0, 1,
                  0, -1, 0, 1, -1, 0]
R6C1_OVERID_PTS = [-5, 12, 0, 8, -3, 5, 2, -2, 6, 0, 3, -3, 4, 1, -2, 5, 0, 2, -3, 3,
                   1, -1, 4, 0, 2, -2, 3, 0, -1, 2, 1, -2, 2, 0, 1, -1, 2, 0, 1, -1,
                   2, 0, -1, 1, 0, 1]

R6C2_ML_FIT = [2, 2, 2, 2, 2, 2, 2, 2, 2, 2, 2, 2]
R6C2_ALLIV_FIT = [-7, -6, -5, -4, -3, -2, -1, -1, 0, 0, 0, 0]
R6C2_OVERID_FIT = [0, 0, 0, 0, 0, 0, 0, 0, 0, 0, 0, 0]
R6C2_SE = [3, 3, 2, 2, 2, 2, 2, 1, 1, 1, 1, 1]
R6C2_ML_PTS = [4, 8, 2, 5, 0, 6, 3, 1, 4, 2, 5, 0, 3, 2, 4, 1, 3, 0, 2, 4,
               1, 3, 2, 0, 3, 1, 4, 2, 0, 3, 2, 1, 3, 2, 0, 2, 3, 1, 2, 0,
               3, 1, 2, 2, 1, 2]
R6C2_ALLIV_PTS = [-10, -6, -4, -5, -2, -3, 0, -2, -1, 1, -2, 0, -1, 1, 0, -1, 0, 1, -1, 0,
                  1, 0, -1, 0, 1, 0, -1, 0, 1, 0, 0, -1, 1, 0, 0, -1, 0, 1, 0, 0,
                  -1, 0, 1, 0, 0, 0]
R6C2_OVERID_PTS = [-3, 5, -1, 3, 0, 2, -2, 1, 3, 0, -1, 2, 0, 1, -1, 2, 0, 1, 0, -1,
                   1, 2, 0, 0, 1, -1, 1, 0, 1, 0, -1, 1, 0, 1, 0, 0, 1, -1, 0, 1,
                   0, 0, 1, 0, -1, 0]

R6C3_ML_FIT = [1, 1, 1, 1, 1, 1, 1, 1, 1, 1, 1, 1]
R6C3_ALLIV_FIT = [-2, -2, -1, -1, 0, 0, 0, 0, 0, 0, 0, 0]
R6C3_OVERID_FIT = [0, 0, 0, 0, 0, 0, 0, 0, 0, 0, 0, 0]
R6C3_SE = [2, 2, 2, 2, 2, 2, 2, 2, 2, 2, 2, 2]
R6C3_ML_PTS = [3, 1, 4, 2, 0, 3, 1, 2, 3, 0, 2, 1, 3, 2, 0, 1, 2, 3, 1, 0,
               2, 1, 2, 0, 1, 3, 1, 2, 0, 1, 2, 1, 0, 2, 1, 1, 2, 0, 1, 2,
               1, 0, 1, 2, 1, 1]
R6C3_ALLIV_PTS = [-5, -3, -2, -1, -2, 0, -1, 1, 0, -1, 0, 1, -1, 0, 0, 1, -1, 0, 0, 1,
                  0, -1, 0, 1, 0, 0, -1, 0, 1, 0, 0, -1, 0, 0, 1, 0, 0, -1, 0, 0,
                  1, 0, 0, 0, -1, 0]
R6C3_OVERID_PTS = [-2, 2, 0, 1, -1, 2, 0, 1, 0, -1, 1, 0, 2, 0, -1, 1, 0, 0, 1, -1,
                   0, 1, 0, 0, -1, 1, 0, 0, 1, 0, 0, 0, 1, -1, 0, 1, 0, 0, 0, 1,
                   0, -1, 0, 0, 1, 0]

# table built from the named arrays above
G = globals()
KEYS = ["ML", "ALLIV", "OVERID"]
PANELS = [[{
    "fits": [G[f"R{r}C{c}_{k}_FIT"] for k in KEYS],
    "pts": [G[f"R{r}C{c}_{k}_PTS"] for k in KEYS],
    "pts2": [G.get(f"R{r}C{c}_{k}_PTS2", []) for k in KEYS],
    "se": G[f"R{r}C{c}_SE"],
} for c in range(1, 4)] for r in range(1, 7)]

# ---------------- layout constants ----------------
FONT = "Liberation Sans"
FW, FH = 493, 263
LEFT_W = 52
B_LEFT, B_GAP = 72, 8
TOP_STRIP_H = 50
B_BOTTOM = 49
RIGHT_STRIP_W = 214
ROW_TOPS = [1, 9, 9, 9, 9, 9]
ROW_BOTS = [9, 9, 9, 9, 9, B_BOTTOM]
COL_LEFTS = [B_LEFT, B_GAP, B_GAP]
COL_RIGHTS = [B_GAP, B_GAP, 1]
ROW_HS = [t + FH + b for t, b in zip(ROW_TOPS, ROW_BOTS)]
COL_WS = [l + FW + r for l, r in zip(COL_LEFTS, COL_RIGHTS)]
GRID_H = TOP_STRIP_H + sum(ROW_HS)
TOTAL_W = LEFT_W + sum(COL_WS) + RIGHT_STRIP_W
BOTTOM_H = 1931 - GRID_H


def blank(w, h):
    f = figure(width=w, height=h, x_range=Range1d(0, 1), y_range=Range1d(0, 1),
               output_backend="svg", toolbar_location=None, x_axis_location=None,
               y_axis_location=None, min_border=0)
    f.outline_line_color = None
    f.grid.visible = False
    f.background_fill_color = "white"
    f.border_fill_color = "white"
    return f


def make_panel(r, c):
    d = PANELS[r][c]
    p = figure(frame_width=FW, frame_height=FH,
               x_range=Range1d(16.5, 313.5), y_range=Range1d(-0.273, 0.273),
               x_axis_location="below" if r == 5 else None,
               y_axis_location="left" if c == 0 else None,
               output_backend="svg", toolbar_location=None,
               min_border_left=COL_LEFTS[c], min_border_right=COL_RIGHTS[c],
               min_border_top=ROW_TOPS[r], min_border_bottom=ROW_BOTS[r])
    p.background_fill_color = "white"
    p.border_fill_color = "white"
    p.outline_line_color = "#5a5a5a"
    p.outline_line_width = 1.5
    p.xgrid.visible = False
    p.ygrid.ticker = FixedTicker(ticks=[-0.2, -0.1, 0.1, 0.2])
    p.ygrid.grid_line_color = "black"
    p.ygrid.grid_line_width = 2.5
    p.ygrid.grid_line_dash = "3 8"
    p.add_layout(Span(location=0, dimension="width", line_color="black",
                      line_width=6, line_dash="21 22", level="underlay"))

    for ax in list(p.xaxis) + list(p.yaxis):
        ax.axis_line_color = None
        ax.major_tick_line_color = "#333333"
        ax.major_tick_line_width = 1.5
        ax.major_tick_out = 7
        ax.major_tick_in = 0
        ax.minor_tick_line_color = None
        ax.major_label_text_font = FONT
        ax.major_label_text_font_size = "31px"
        ax.major_label_text_color = "#4d4d4d"
        ax.major_label_standoff = 6
    for ax in p.yaxis:
        ax.ticker = FixedTicker(ticks=Y_TICKS)
        ax.formatter = PrintfTickFormatter(format="%.1f")
    for ax in p.xaxis:
        ax.ticker = FixedTicker(ticks=X_TICKS)

    # points
    for k in range(3):
        xs, ys = [], []
        for xa, va in ((PTS_X, d["pts"][k]), (PTS_X2, d["pts2"][k])):
            n = min(len(xa), len(va))
            xs += xa[:n]
            ys += [v / 1000 for v in va[:n]]
        p.scatter(xs, ys, size=8, fill_color=COLORS[k], fill_alpha=0.55,
                  line_color=COLORS[k], line_alpha=0.8, line_width=1)
    # smooths with confidence bands
    for k in range(3):
        fit = d["fits"][k]
        se = d["se"]
        n = min(len(fit), len(FIT_X), len(se))
        p.varea(x=FIT_X[:n], y1=[(f - s) / 1000 for f, s in zip(fit[:n], se[:n])],
                y2=[(f + s) / 1000 for f, s in zip(fit[:n], se[:n])],
                fill_color="#999999", fill_alpha=0.35)
        p.line(FIT_X[:n], [v / 1000 for v in fit[:n]], line_color=COLORS[k],
               line_width=6, line_join="round")
    return p


# top strip (one wide blank figure above the three columns)
top_fig = blank(sum(COL_WS), TOP_STRIP_H)
x0 = 0
for c in range(3):
    top_fig.add_layout(Label(x=x0 + COL_LEFTS[c] + FW / 2, y=TOP_STRIP_H - 23,
                             x_units="screen", y_units="screen",
                             text=COL_STRIPS[c], text_font=FONT, text_font_size="32px",
                             text_align="center", text_baseline="middle", text_color="#1a1a1a"))
    x0 += COL_WS[c]

panel_rows = [row(*[make_panel(r, c) for c in range(3)]) for r in range(6)]

# right strip (one tall blank figure beside the six rows)
rfig = blank(RIGHT_STRIP_W, GRID_H)
y_top = TOP_STRIP_H
for r in range(6):
    center_from_top = y_top + ROW_TOPS[r] + FH / 2
    yc = GRID_H - center_from_top
    lines, side = ROW_STRIPS[r]
    for txt, dx in zip(lines, [95, 59, 26]):
        rfig.add_layout(Label(x=dx, y=yc, x_units="screen", y_units="screen",
                              text=txt, angle=-math.pi / 2, text_font=FONT,
                              text_font_size="32px", text_align="center",
                              text_baseline="middle", text_color="#1a1a1a"))
    rfig.add_layout(Label(x=187, y=yc, x_units="screen", y_units="screen",
                          text=side, angle=-math.pi / 2, text_font=FONT,
                          text_font_size="32px", text_align="center",
                          text_baseline="middle", text_color="#1a1a1a"))
    y_top += ROW_HS[r]

# y title figure
yfig = blank(LEFT_W, GRID_H)
yfig.add_layout(Label(x=29, y=GRID_H - 885, x_units="screen", y_units="screen",
                      text=Y_TITLE, angle=math.pi / 2, text_font=FONT,
                      text_font_style="bold", text_font_size="33px",
                      text_align="center", text_baseline="middle", text_color="black"))

# bottom figure: x title + legend
bfig = blank(TOTAL_W, BOTTOM_H)
panel_center = LEFT_W + B_LEFT + (FW * 3 + 4 * B_GAP) / 2
bfig.add_layout(Label(x=panel_center, y=BOTTOM_H - 21, x_units="screen", y_units="screen",
                      text=X_TITLE, text_font=FONT, text_font_style="bold",
                      text_font_size="33px", text_align="center",
                      text_baseline="middle", text_color="black"))

src = ColumnDataSource(data=dict(x=[5.0], y=[5.0]))
items = []
for name, col in zip(SERIES, COLORS):
    bg = bfig.line("x", "y", source=src, line_color="#D9D9D9", line_width=60)
    fg = bfig.line("x", "y", source=src, line_color=col, line_width=12)
    items.append(LegendItem(label=name, renderers=[bg, fg]))
legend = Legend(items=items, orientation="horizontal", location=(469, 4),
                glyph_width=80, glyph_height=60, label_standoff=14, spacing=16,
                padding=16, margin=0, border_line_color="black", border_line_width=2.5,
                label_text_font=FONT, label_text_font_size="33px", label_text_color="black",
                background_fill_color="white", background_fill_alpha=1.0)
bfig.add_layout(legend, "center")

layout = column(row(yfig, column(top_fig, *panel_rows), rfig), bfig)

with open("out.html", "w") as f:
    f.write(file_html(layout, INLINE, "Relative bias"))
